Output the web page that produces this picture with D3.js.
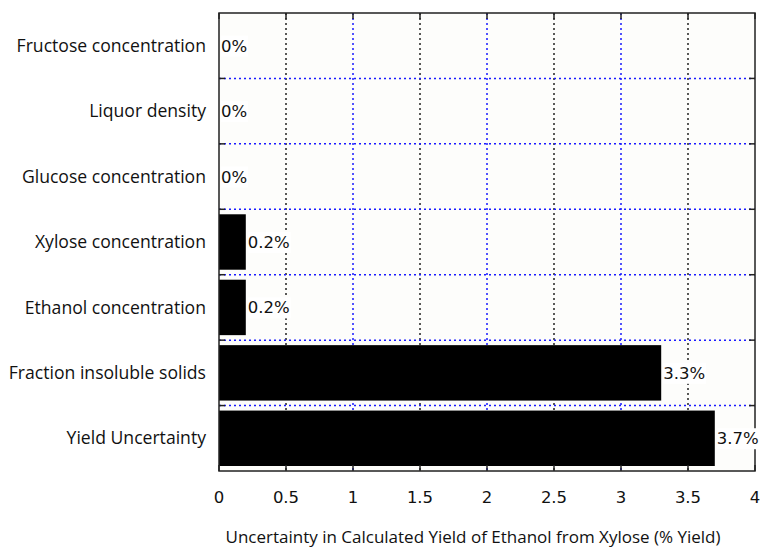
<!DOCTYPE html>
<html><head><meta charset="utf-8">
<script src="https://cdn.jsdelivr.net/npm/d3@7"></script>
<style>body{margin:0;background:#fff}svg{display:block}</style>
</head><body>
<script>
const categories = ["Fructose concentration","Liquor density","Glucose concentration","Xylose concentration","Ethanol concentration","Fraction insoluble solids","Yield Uncertainty"];
const values = [0, 0, 0, 0.2, 0.2, 3.3, 3.7];
const valueLabels = ["0%","0%","0%","0.2%","0.2%","3.3%","3.7%"];
const xTicks = [0,0.5,1,1.5,2,2.5,3,3.5,4];
const xTitle = "Uncertainty in Calculated Yield of Ethanol from Xylose (% Yield)";

const W=761,H=547;
const m={l:219,r:6,t:13,b:76};
const svg=d3.select("body").append("svg").attr("width",W).attr("height",H);
const x=d3.scaleLinear().domain([0,4]).range([m.l,W-m.r]);
const y=d3.scaleBand().domain(categories).range([m.t,H-m.b]);
const x0=x(0),x1=x(4),y0=m.t,y1=H-m.b;
const bandH=y.step();

svg.append("rect").attr("x",x0).attr("y",y0).attr("width",x1-x0).attr("height",y1-y0).attr("fill","#fdfdfb");

// vertical grid
svg.append("g").selectAll("line").data(xTicks.filter(d=>d>0&&d<4)).join("line")
  .attr("x1",d=>x(d)).attr("x2",d=>x(d)).attr("y1",y0).attr("y2",y1)
  .attr("stroke",(d,i)=>i%2===0?"#222":"#1a1aff").attr("stroke-width",1.5).attr("stroke-dasharray","2,3");
// horizontal grid at band boundaries
const bounds=categories.slice(1).map(c=>y(c));
svg.append("g").selectAll("line").data(bounds).join("line")
  .attr("x1",x0).attr("x2",x1).attr("y1",d=>d).attr("y2",d=>d)
  .attr("stroke","#1a1aff").attr("stroke-width",1.5).attr("stroke-dasharray","2,3");

// bars
svg.append("g").selectAll("rect").data(values).join("rect")
  .attr("x",x0).attr("y",(d,i)=>y(categories[i])+5).attr("width",d=>x(d)-x0).attr("height",bandH-10).attr("fill","#000");

// frame
svg.append("rect").attr("x",x0).attr("y",y0).attr("width",x1-x0).attr("height",y1-y0).attr("fill","none").attr("stroke","#222").attr("stroke-width",1.5);
// ticks
const tk=svg.append("g").attr("stroke","#222").attr("stroke-width",1.5);
xTicks.forEach(d=>{
  tk.append("line").attr("x1",x(d)).attr("x2",x(d)).attr("y1",y1).attr("y2",y1-6);
  tk.append("line").attr("x1",x(d)).attr("x2",x(d)).attr("y1",y0).attr("y2",y0+6);
});
bounds.forEach(b=>{
  tk.append("line").attr("x1",x0).attr("x2",x0+6).attr("y1",b).attr("y2",b);
  tk.append("line").attr("x1",x1).attr("x2",x1-6).attr("y1",b).attr("y2",b);
});

// value labels with white background
const lg=svg.append("g");
values.forEach((v,i)=>{
  const cy=y(categories[i])+bandH/2;
  const t=lg.append("text").attr("x",x(v)+2).attr("y",cy).attr("dy","0.36em")
    .attr("font-family","DejaVu Sans").attr("font-size",16.5).attr("fill","#111").text(valueLabels[i]);
  const bb=t.node().getBBox();
  lg.insert("rect","text").attr("x",bb.x).attr("y",bb.y-1).attr("width",bb.width+1).attr("height",bb.height+2).attr("fill","#fff");
});

// category labels
svg.append("g").selectAll("text").data(categories).join("text")
  .attr("x",206).attr("y",d=>y(d)+bandH/2).attr("dy","0.35em").attr("text-anchor","end")
  .attr("font-family","Open Sans").attr("font-size",17.6).attr("fill","#111").text(d=>d);

// tick labels
svg.append("g").selectAll("text").data(xTicks).join("text")
  .attr("x",d=>x(d)).attr("y",497).attr("dy","0.35em").attr("text-anchor","middle")
  .attr("font-family","DejaVu Sans").attr("font-size",16.5).attr("fill","#111").text(d=>d);

svg.append("text").attr("x",473).attr("y",537).attr("dy","0.35em").attr("text-anchor","middle")
  .attr("font-family","Open Sans").attr("font-size",17).attr("fill","#111").text(xTitle);
</script>
</body></html>
